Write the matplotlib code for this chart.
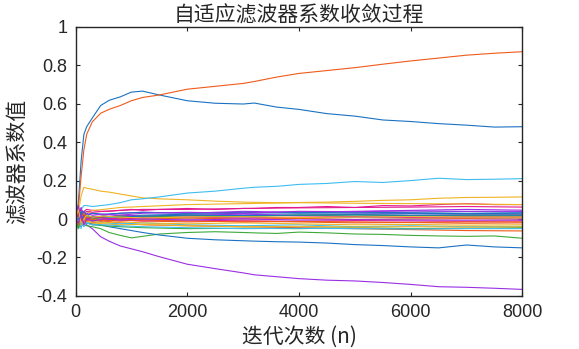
import numpy as np
import matplotlib
matplotlib.use("Agg")
import matplotlib.pyplot as plt
from matplotlib.ticker import FuncFormatter

plt.rcParams['font.family'] = ['Noto Sans CJK SC', 'DejaVu Sans']
plt.rcParams['axes.unicode_minus'] = False

n_big = [0, 50, 100, 150, 200, 300, 450, 600, 800, 1000, 1200, 1500, 2000, 2500,
         3000, 3200, 3600, 4000, 4500, 5000, 5500, 6000, 6500, 7000, 7500, 8000]
n_band = [0, 50, 100, 150, 200, 300, 500, 800, 1200, 2000, 3000, 4000, 5000, 6000, 7000, 8000]

# dominant taps (sampled on n_big)
w01 = [0, 0.08, 0.30, 0.44, 0.48, 0.525, 0.59, 0.617, 0.635, 0.66, 0.665, 0.645, 0.615, 0.602,
       0.598, 0.603, 0.582, 0.57, 0.548, 0.535, 0.515, 0.507, 0.496, 0.488, 0.478, 0.48]
w02 = [0, 0.05, 0.22, 0.36, 0.44, 0.505, 0.55, 0.57, 0.59, 0.615, 0.632, 0.645, 0.675, 0.69,
       0.705, 0.715, 0.738, 0.757, 0.772, 0.787, 0.805, 0.822, 0.837, 0.852, 0.862, 0.87]
w03 = [0, 0.03, 0.12, 0.165, 0.16, 0.155, 0.145, 0.14, 0.13, 0.12, 0.11, 0.105, 0.10, 0.093,
       0.088, 0.087, 0.085, 0.086, 0.088, 0.092, 0.097, 0.10, 0.108, 0.112, 0.113, 0.115]
w04 = [0, 0.05, 0.02, -0.01, -0.03, -0.05, -0.092, -0.115, -0.14, -0.155, -0.17, -0.196, -0.235,
       -0.258, -0.28, -0.29, -0.30, -0.31, -0.318, -0.322, -0.33, -0.34, -0.352, -0.355, -0.36, -0.366]
w05 = [0, -0.02, -0.03, -0.03, -0.035, -0.04, -0.05, -0.07, -0.085, -0.098, -0.09, -0.078, -0.07,
       -0.066, -0.07, -0.072, -0.075, -0.068, -0.072, -0.078, -0.08, -0.085, -0.088, -0.09, -0.088, -0.10]
w06 = [0, 0.02, 0.05, 0.07, 0.07, 0.065, 0.07, 0.075, 0.085, 0.10, 0.105, 0.115, 0.135, 0.145,
       0.16, 0.165, 0.17, 0.18, 0.185, 0.195, 0.19, 0.20, 0.212, 0.205, 0.207, 0.21]
w07 = [0, -0.03, 0.03, 0.04, 0.05, 0.045, 0.04, 0.04, 0.045, 0.05, 0.045, 0.05, 0.055, 0.05,
       0.055, 0.055, 0.06, 0.06, 0.065, 0.06, 0.07, 0.068, 0.075, 0.08, 0.075, 0.075]
w08 = [0, 0.01, -0.01, -0.01, -0.02, -0.025, -0.03, -0.04, -0.05, -0.06, -0.07, -0.083, -0.10,
       -0.108, -0.113, -0.115, -0.118, -0.12, -0.125, -0.133, -0.138, -0.145, -0.15, -0.135, -0.145, -0.15]

# remaining small taps (sampled on n_band)
w09 = [0, 0.03, -0.02, 0.01, -0.01, -0.02, -0.01, -0.02, -0.03, -0.035, -0.04, -0.045, -0.05, -0.055, -0.06, -0.062]
w10 = [0, -0.02, 0.04, 0.02, 0.03, 0.045, 0.05, 0.06, 0.065, 0.075, 0.08, 0.085, 0.082, 0.08, 0.078, 0.075]
w11 = [0, 0.06, 0.01, -0.02, 0.02, 0.03, 0.02, 0.03, 0.035, 0.03, 0.04, 0.035, 0.04, 0.045, 0.05, 0.046]
w12 = [0, -0.04, 0.02, -0.01, -0.02, -0.03, -0.035, -0.04, -0.045, -0.05, -0.048, -0.05, -0.045, -0.05, -0.048, -0.045]
w13 = [0, -0.05, -0.03, 0.01, -0.02, -0.01, -0.02, -0.025, -0.02, -0.03, -0.035, -0.03, -0.04, -0.035, -0.04, -0.038]
w14 = [0, 0.02, 0.05, 0.03, 0.04, 0.035, 0.04, 0.045, 0.05, 0.05, 0.055, 0.058, 0.06, 0.062, 0.065, 0.062]
w15 = [0, 0.04, -0.03, 0.02, 0.01, 0.0, 0.01, 0.015, 0.02, 0.025, 0.03, 0.035, 0.032, 0.035, 0.038, 0.035]
w16 = [0, 0.02, -0.04, -0.01, 0.01, 0.0, -0.01, -0.005, -0.01, -0.015, -0.01, -0.015, -0.02, -0.018, -0.022, -0.02]
w17 = [0, -0.01, 0.03, 0.0, -0.015, -0.01, -0.02, -0.015, -0.02, -0.025, -0.02, -0.025, -0.03, -0.028, -0.032, -0.03]
w18 = [0, 0.07, 0.0, 0.02, -0.01, 0.015, 0.01, 0.02, 0.015, 0.02, 0.025, 0.02, 0.025, 0.028, 0.025, 0.025]
w19 = [0, -0.03, 0.01, 0.03, 0.0, 0.01, 0.005, 0.01, 0.015, 0.01, 0.015, 0.02, 0.015, 0.018, 0.015, 0.015]
w20 = [0, 0.01, -0.05, 0.02, 0.01, 0.0, 0.01, 0.005, 0.0, 0.005, 0.01, 0.005, 0.008, 0.005, 0.006, 0.005]
w21 = [0, 0.0, 0.03, -0.02, 0.0, -0.01, 0.0, -0.005, -0.01, -0.005, -0.01, -0.012, -0.008, -0.01, -0.012, -0.01]
w22 = [0, -0.02, 0.02, 0.04, 0.02, 0.03, 0.025, 0.03, 0.035, 0.03, 0.035, 0.03, 0.032, 0.03, 0.028, 0.03]
w23 = [0, 0.04, 0.0, -0.03, 0.01, -0.005, 0.0, 0.005, 0.0, 0.005, 0.0, 0.003, -0.002, 0.0, 0.002, 0.0]
w24 = [0, 0.01, -0.03, -0.02, -0.01, -0.02, -0.025, -0.03, -0.028, -0.035, -0.04, -0.038, -0.042, -0.04, -0.042, -0.04]
w25 = [0, 0.02, 0.06, 0.01, 0.03, 0.02, 0.025, 0.02, 0.03, 0.035, 0.03, 0.04, 0.038, 0.042, 0.04, 0.04]
w26 = [0, -0.05, 0.0, 0.01, 0.02, 0.0, 0.01, 0.015, 0.01, 0.02, 0.015, 0.02, 0.022, 0.018, 0.02, 0.02]
w27 = [0, 0.0, -0.02, -0.04, -0.02, -0.03, -0.03, -0.035, -0.04, -0.045, -0.05, -0.048, -0.05, -0.052, -0.05, -0.05]
w28 = [0, 0.03, -0.01, 0.02, 0.0, 0.01, 0.005, 0.0, 0.005, 0.01, 0.005, 0.01, 0.012, 0.008, 0.01, 0.01]
w29 = [0, 0.0, 0.04, 0.0, 0.02, 0.01, 0.015, 0.01, 0.015, 0.02, 0.018, 0.02, 0.022, 0.02, 0.02, 0.02]
w30 = [0, -0.03, 0.01, 0.03, -0.01, 0.0, -0.005, -0.01, -0.005, -0.01, -0.015, -0.012, -0.015, -0.018, -0.015, -0.015]
w31 = [0, 0.05, -0.02, 0.0, 0.02, 0.01, 0.015, 0.01, 0.005, 0.01, 0.012, 0.008, 0.01, 0.012, 0.01, 0.01]
w32 = [0, -0.02, 0.02, -0.03, 0.0, -0.01, 0.0, -0.005, 0.0, -0.005, 0.0, -0.005, -0.003, -0.005, -0.006, -0.005]

big_taps = [w01, w02, w03, w04, w05, w06, w07, w08]
band_taps = [w09, w10, w11, w12, w13, w14, w15, w16, w17, w18, w19, w20,
             w21, w22, w23, w24, w25, w26, w27, w28, w29, w30, w31, w32]

colors = ['#1a72c4', '#f05a1a', '#f0b323', '#9a2fe4', '#3daa3a', '#3fbdf0', '#e2198f']

fig = plt.figure(figsize=(5.79, 3.49), dpi=100)
ax = fig.add_axes([0.1304, 0.152, 0.772, 0.7715])

k = 0
for w in big_taps:
    ax.plot(n_big, w, color=colors[k % 7], lw=0.8)
    k += 1
for w in band_taps:
    ax.plot(n_band, w, color=colors[k % 7], lw=0.8)
    k += 1

ax.set_xlim(0, 8000)
ax.set_ylim(-0.4, 1)
ax.set_xticks([0, 2000, 4000, 6000, 8000])
ax.set_yticks([-0.4, -0.2, 0, 0.2, 0.4, 0.6, 0.8, 1])
ax.yaxis.set_major_formatter(FuncFormatter(lambda v, p: '%g' % round(v, 2)))

for s in ax.spines.values():
    s.set_color('#262626')
    s.set_linewidth(1.0)
ax.tick_params(direction='in', length=3.2, width=0.8, color='#262626',
               top=True, right=True, labelsize=13, pad=6, labelcolor='#262626')
for lab in ax.get_xticklabels() + ax.get_yticklabels():
    lab.set_family('Liberation Sans')

ax.set_title('自适应滤波器系数收敛过程', fontsize=15, pad=4, color='#262626')
ax.set_xlabel('迭代次数 (n)', fontsize=15, color='#262626')
ax.set_ylabel('滤波器系数值', fontsize=15, color='#262626')
ax.xaxis.set_label_coords(0.5, -0.152)
ax.xaxis.label.set_va('center')
ax.yaxis.set_label_coords(-0.129, 0.5)
ax.yaxis.label.set_va('center')
ax.yaxis.label.set_ha('center')

fig.savefig('out.png', dpi=100)
